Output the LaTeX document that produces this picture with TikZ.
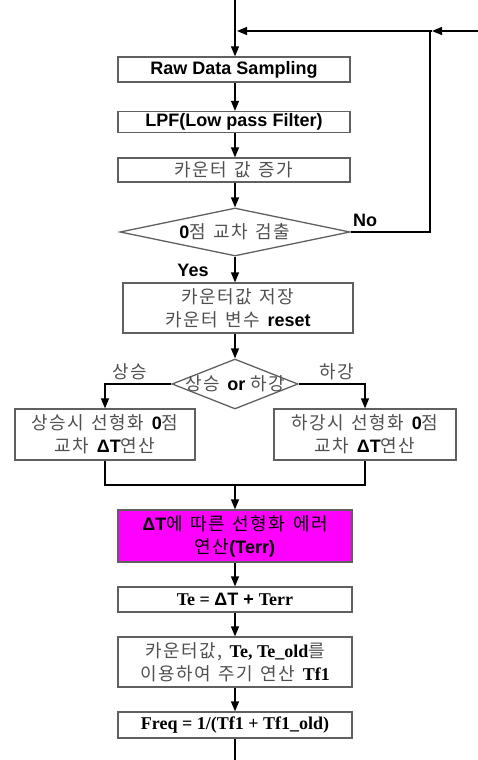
\documentclass[tikz,border=0pt]{standalone}
\usepackage{fontspec}
\setmainfont{Liberation Sans}
\newfontfamily\krf[LetterSpace=8,WordSpace=1.4]{Noto Sans CJK KR}
\newfontfamily\tmf{Liberation Serif}
\usetikzlibrary{shapes.geometric,arrows.meta}
\definecolor{krgray}{HTML}{505050}
\definecolor{boxgray}{HTML}{606060}
\definecolor{mag}{HTML}{FF00FF}
\newcommand{\kt}[1]{{\krf\color{krgray}#1}}
\newcommand{\bt}[1]{{\bfseries #1}}
\newcommand{\tb}[1]{{\tmf\bfseries #1}}
\begin{document}
\begin{tikzpicture}[x=1pt,y=-1pt,
  font=\fontsize{18}{23}\selectfont,
  box/.style={rectangle,draw=boxgray,line width=1.3pt,inner sep=0pt,align=center},
  dia/.style={diamond,draw=boxgray,line width=1.3pt,inner sep=0pt},
  conn/.style={line width=1.3pt,black},
  arr/.style={conn,-{Triangle[length=10pt,width=8pt]}},
  lbl/.style={inner sep=0pt}
]
\useasboundingbox (0,0) rectangle (478,760);

\node[box,minimum width=232pt,minimum height=25pt] (b1) at (234,69.5) {\bt{Raw Data Sampling}};
\node[box,minimum width=232pt,minimum height=21pt] (b2) at (234,122) {\bt{LPF(Low pass Filter)}};
\node[box,minimum width=232pt,minimum height=24pt] (b3) at (234,170) {\kt{카운터 값 증가}};
\node[dia,minimum width=230pt,minimum height=48pt] (d1) at (235,232) {};
\node[lbl] (d1t) at (d1) {\bt{0}\kt{점 교차 검출}};
\node[box,minimum width=230pt,minimum height=50pt] (b4) at (238,308) {\kt{카운터값 저장}\\\kt{카운터 변수 }\bt{reset}};
\node[dia,minimum width=126pt,minimum height=50pt] (d2) at (235,384) {};
\node[lbl] (d2t) at (d2) {\kt{상승 }\bt{or }\kt{하강}};
\node[box,minimum width=180pt,minimum height=51pt] (b5) at (105,434.5) {\kt{상승시 선형화 }\bt{0}\kt{점}\\\kt{교차 }\bt{ΔT}\kt{연산}};
\node[box,minimum width=182pt,minimum height=51pt] (b6) at (365,434.5) {\kt{하강시 선형화 }\bt{0}\kt{점}\\\kt{교차 }\bt{ΔT}\kt{연산}};
\node[box,fill=mag,minimum width=234pt,minimum height=52pt] (b7) at (235,536) {\bt{ΔT}{\krf 에 따른 선형화 에러}\\{\krf 연산}\bt{(Terr)}};
\node[box,minimum width=234pt,minimum height=25pt] (b8) at (235,599.5) {\tb{Te = }\bt{ΔT + }\tb{Terr}};
\node[box,minimum width=234pt,minimum height=50pt] (b9) at (235,662) {\kt{카운터값, }\tb{Te, Te\_old}\kt{를}\\\kt{이용하여 주기 연산 }\tb{Tf1}};
\node[box,minimum width=234pt,minimum height=26pt] (b10) at (235,725) {\tb{Freq = 1/(Tf1 + Tf1\_old)}};

\node[lbl] (no) at (365,220) {\bt{No}};
\node[lbl] (yes) at (193,270) {\bt{Yes}};
\node[lbl] (up) at (130,372) {\kt{상승}};
\node[lbl] (down) at (337,372) {\kt{하강}};

\coordinate (top) at (235,0);
\coordinate (bot) at (235,760);
\coordinate (fr) at (478,31);
\coordinate (fc) at (430,31);
\coordinate (fj) at (235,31);
\coordinate (m) at (235,485);

\draw[arr] (top) -- (top |- b1.north);
\draw[arr] (fr) -- ([xshift=2pt]fc);
\draw[conn] (d1.east) -| (fc) -- ([xshift=2pt]fc);
\draw[arr] (fc) -- ([xshift=2pt]fj);
\draw[arr] (top |- b1.south) -- (top |- b2.north);
\draw[arr] (top |- b2.south) -- (top |- b3.north);
\draw[arr] (top |- b3.south) -- (d1.north);
\draw[arr] (d1.south) -- (d1.south |- b4.north);
\draw[arr] (d1.south |- b4.south) -- (d2.north);
\draw[arr] (d2.west) -| (b5.north);
\draw[arr] (d2.east) -| (b6.north);
\draw[conn] (b5.south) |- (m) -| (b6.south);
\draw[arr] (m) -- (b7.north);
\draw[arr] (b7.south) -- (b8.north);
\draw[arr] (b8.south) -- (b9.north);
\draw[arr] (b9.south) -- (b10.north);
\draw[conn] (b10.south) -- (bot);
\end{tikzpicture}
\end{document}
